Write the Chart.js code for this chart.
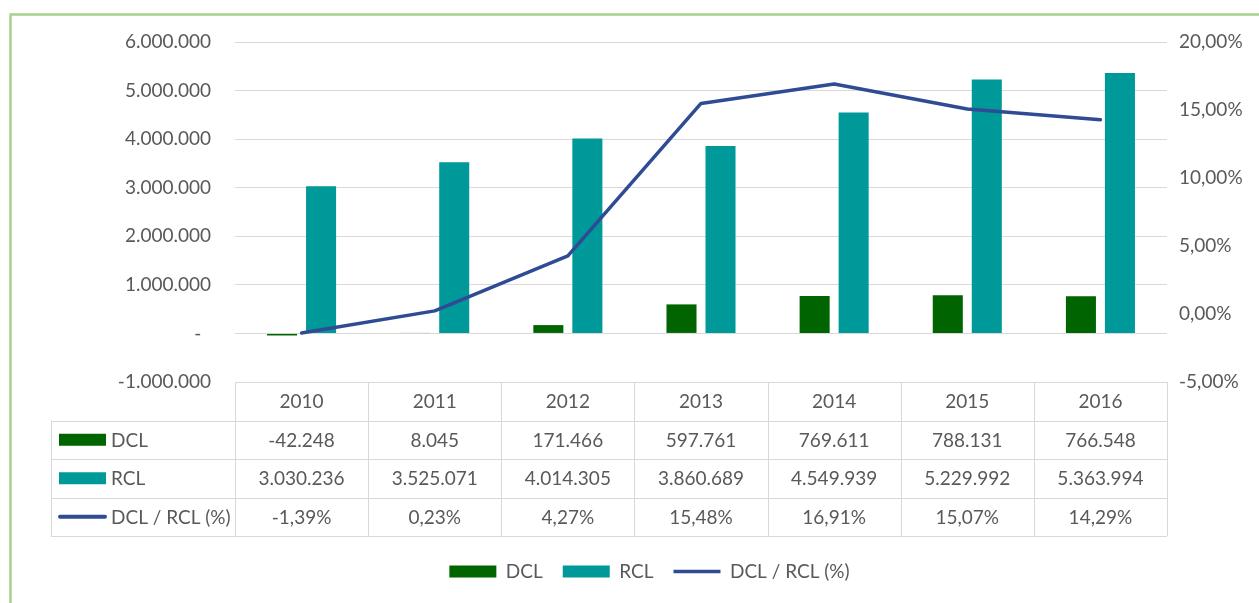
<!DOCTYPE html>
<html>
<head>
<meta charset="utf-8">
<script src="https://cdn.jsdelivr.net/npm/chart.js@4.4.1/dist/chart.umd.min.js"></script>
<style>
  html, body { margin: 0; padding: 0; background: #fff; }
  canvas { display: block; }
</style>
</head>
<body>
<canvas id="myChart" width="1259" height="603"></canvas>
<script>
var years = ['2010', '2011', '2012', '2013', '2014', '2015', '2016'];
var dcl = [-42248, 8045, 171466, 597761, 769611, 788131, 766548];
var rcl = [3030236, 3525071, 4014305, 3860689, 4549939, 5229992, 5363994];
var ratio = [-1.39, 0.23, 4.27, 15.48, 16.91, 15.07, 14.29];
var seriesNames = ['DCL', 'RCL', 'DCL / RCL (%)'];

var colDcl = '#006400';
var colRcl = '#00999a';
var colLine = '#2e4b94';
var textCol = '#595959';
var gridCol = '#d9d9d9';
var fontName = 'Lato';

function fmtNum(n) {
    var s = Math.abs(Math.round(n)).toString().replace(/\B(?=(\d{3})+(?!\d))/g, '.');
    return (n < 0 ? '-' : '') + s;
}

function fmtPct(v) {
    return v.toFixed(2).replace('.', ',') + '%';
}

// frame + data table under the plot
var tablePlugin = {
    id: 'dataTable',
    beforeDraw: function (chart) {
        var ctx = chart.ctx;
        ctx.save();
        ctx.strokeStyle = '#a9d18e';
        ctx.lineWidth = 2.5;
        ctx.beginPath();
        ctx.moveTo(10.5, 603);
        ctx.lineTo(10.5, 14.5);
        ctx.lineTo(1259, 14.5);
        ctx.stroke();
        ctx.restore();
    },
    afterDraw: function (chart) {
        var ctx = chart.ctx;
        var area = chart.chartArea;
        var x = chart.scales.x;
        var top = area.bottom;
        var rowH = 38.5;
        var labelLeft = 51;
        var colW = (area.right - area.left) / years.length;
        var bottom = top + rowH * 4;

        ctx.save();
        ctx.strokeStyle = gridCol;
        ctx.lineWidth = 1;
        ctx.beginPath();
        // horizontal lines
        ctx.moveTo(area.left, top + 0.5);
        ctx.lineTo(area.right, top + 0.5);
        for (var r = 1; r <= 4; r++) {
            var yy = Math.round(top + r * rowH) + 0.5;
            ctx.moveTo(labelLeft, yy);
            ctx.lineTo(area.right, yy);
        }
        // vertical lines
        ctx.moveTo(labelLeft + 0.5, top + rowH);
        ctx.lineTo(labelLeft + 0.5, bottom);
        for (var c = 0; c <= years.length; c++) {
            var xx = Math.round(area.left + c * colW) + 0.5;
            ctx.moveTo(xx, top);
            ctx.lineTo(xx, bottom);
        }
        ctx.stroke();

        ctx.font = '19px ' + fontName;
        ctx.fillStyle = textCol;
        ctx.textAlign = 'center';
        ctx.textBaseline = 'middle';
        var rows = [years, dcl.map(fmtNum), rcl.map(fmtNum), ratio.map(fmtPct)];
        rows.forEach(function (row, ri) {
            var cy = top + ri * rowH + rowH / 2 + 1;
            row.forEach(function (txt, i) {
                ctx.fillText(txt, x.getPixelForValue(i), cy);
            });
        });

        // row headers with series keys
        ctx.textAlign = 'left';
        var swatchX = 59, swatchW = 47;
        [colDcl, colRcl, colLine].forEach(function (col, i) {
            var cy = top + (i + 1) * rowH + rowH / 2;
            if (i < 2) {
                ctx.fillStyle = col;
                ctx.fillRect(swatchX, cy - 6, swatchW, 12);
            } else {
                ctx.strokeStyle = col;
                ctx.lineWidth = 4;
                ctx.lineCap = 'round';
                ctx.beginPath();
                ctx.moveTo(swatchX + 1, cy);
                ctx.lineTo(swatchX + swatchW - 1, cy);
                ctx.stroke();
            }
            ctx.fillStyle = textCol;
            ctx.fillText(seriesNames[i], swatchX + swatchW + 5, cy + 1);
        });
        ctx.restore();
    }
};

var ctx = document.getElementById('myChart').getContext('2d');
var myChart = new Chart(ctx, {
    type: 'bar',
    data: {
        labels: years,
        datasets: [{
            label: seriesNames[0],
            data: dcl,
            backgroundColor: colDcl,
            borderWidth: 0,
            pointStyle: 'rect',
            yAxisID: 'y',
            order: 1,
            categoryPercentage: 0.586,
            barPercentage: 0.77
        }, {
            label: seriesNames[1],
            data: rcl,
            backgroundColor: colRcl,
            borderWidth: 0,
            pointStyle: 'rect',
            yAxisID: 'y',
            order: 1,
            categoryPercentage: 0.586,
            barPercentage: 0.77
        }, {
            type: 'line',
            label: seriesNames[2],
            data: ratio,
            borderColor: colLine,
            backgroundColor: colLine,
            borderWidth: 3.5,
            borderCapStyle: 'round',
            borderJoinStyle: 'round',
            pointRadius: 0,
            pointStyle: 'line',
            tension: 0,
            yAxisID: 'y1',
            order: 0
        }]
    },
    options: {
        responsive: false,
        animation: false,
        layout: {
            padding: { top: 42, left: 40, right: 0, bottom: 12 }
        },
        plugins: {
            tooltip: { enabled: false },
            legend: {
                position: 'bottom',
                labels: {
                    usePointStyle: true,
                    pointStyleWidth: 47,
                    boxHeight: 12,
                    padding: 20,
                    color: textCol,
                    font: { family: fontName, size: 19 },
                    sort: function (a, b) { return a.datasetIndex - b.datasetIndex; }
                }
            }
        },
        scales: {
            x: {
                grid: { display: false },
                border: { display: false },
                ticks: { display: false },
                afterFit: function (s) { s.height = 160; }
            },
            y: {
                position: 'left',
                min: -1000000,
                max: 6000000,
                border: { display: false },
                grid: { color: gridCol, drawTicks: false },
                ticks: {
                    stepSize: 1000000,
                    padding: 24,
                    color: textCol,
                    font: { family: fontName, size: 19 },
                    callback: function (v) {
                        return v === 0 ? '-\u00a0\u00a0' : fmtNum(v);
                    }
                },
                afterFit: function (s) { s.width = 195; }
            },
            y1: {
                position: 'right',
                min: -5,
                max: 20,
                border: { display: false },
                grid: { display: false, drawTicks: false },
                ticks: {
                    stepSize: 5,
                    padding: 12,
                    color: textCol,
                    font: { family: fontName, size: 19 },
                    callback: function (v) { return fmtPct(v); }
                },
                afterFit: function (s) { s.width = 92; }
            }
        }
    },
    plugins: [tablePlugin]
});
</script>
</body>
</html>
